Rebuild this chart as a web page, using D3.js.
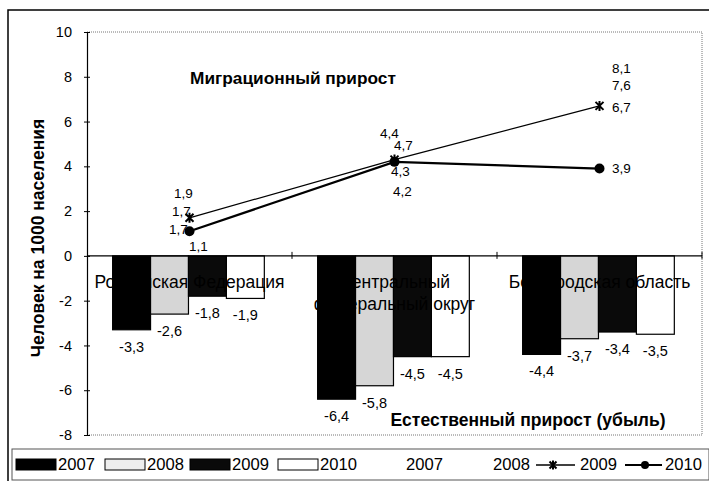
<!DOCTYPE html>
<html>
<head>
<meta charset="utf-8">
<script src="https://cdn.jsdelivr.net/npm/d3@7"></script>
<style>
  body { margin: 0; background: #fff; }
  svg { font-family: "Liberation Sans", Arial, sans-serif; }
</style>
</head>
<body>
<svg id="chart" width="709" height="481"></svg>
<script>
// data
const categories = ['Российская Федерация', 'Центральный федеральный округ', 'Белгородская область'];
const catLines = [['Российская Федерация'], ['Центральный', 'федеральный округ'], ['Белгородская область']];
const years = ['2007', '2008', '2009', '2010'];
const natural2007 = [-3.3, -6.4, -4.4];
const natural2008 = [-2.6, -5.8, -3.7];
const natural2009 = [-1.8, -4.5, -3.4];
const natural2010 = [-1.9, -4.5, -3.5];
const migr2007 = [1.9, 4.4, 8.1];
const migr2008 = [1.7, 4.7, 7.6];
const migr2009 = [1.7, 4.3, 6.7];
const migr2010 = [1.1, 4.2, 3.9];
const yTicks = [-8, -6, -4, -2, 0, 2, 4, 6, 8, 10];

const natural = [natural2007, natural2008, natural2009, natural2010];
const migr = [migr2007, migr2008, migr2009, migr2010];

// hand placed label offsets, like in the original
const migrLabelOffset = [
  [[-6, -20], [-5, -24], [22, -6]],
  [[-8, -7], [9, -5], [22, 0]],
  [[-11, 11], [6, 12], [22, 1]],
  [[9, 15], [8, 29], [22, 0]]
];

const barFill = ['#000', '#d6d6d6', '#0a0a0a', '#fff'];
const fmt = d => String(d).replace('.', ',');

const svg = d3.select('#chart');
const margin = { top: 32, right: 7, bottom: 46, left: 87 };
const W = 709, H = 481;
const width = W - margin.left - margin.right;
const height = H - margin.top - margin.bottom;

// outer frame
svg.append('rect')
  .attr('x', 8).attr('y', 10).attr('width', 702).attr('height', 475)
  .attr('fill', 'none').attr('stroke', '#000').attr('stroke-width', 1.5);

const g = svg.append('g').attr('transform', `translate(${margin.left},${margin.top})`);

const x = d3.scaleBand().domain(categories).range([0, width]);
const x1 = d3.scaleBand().domain(years)
  .range([x.bandwidth() * 0.125, x.bandwidth() * 0.865]);
const y = d3.scaleLinear().domain([-8, 10]).range([height, 0]);

// plot border (dotted grey)
g.append('path')
  .attr('d', `M0,0H${width}V${height}H0`)
  .attr('fill', 'none').attr('stroke', '#777').attr('stroke-dasharray', '1,1');

// bars
years.forEach((yr, i) => {
  g.append('g').selectAll('rect')
    .data(natural[i])
    .enter().append('rect')
    .attr('x', (d, j) => x(categories[j]) + x1(yr))
    .attr('y', y(0))
    .attr('width', x1.bandwidth())
    .attr('height', d => y(d) - y(0))
    .attr('fill', barFill[i])
    .attr('stroke', '#000')
    .attr('stroke-width', 1.2);

  g.append('g').selectAll('text')
    .data(natural[i])
    .enter().append('text')
    .attr('x', (d, j) => x(categories[j]) + x1(yr) + x1.bandwidth() / 2)
    .attr('y', d => y(d) + 22)
    .attr('text-anchor', 'middle')
    .style('font-size', '14.5px')
    .text(fmt);
});

// category labels (black text disappears over the black bars)
catLines.forEach((lines, j) => {
  lines.forEach((t, k) => {
    g.append('text')
      .attr('x', x(categories[j]) + x.bandwidth() / 2)
      .attr('y', y(0) + 32 + k * 22)
      .attr('text-anchor', 'middle')
      .style('font-size', '17.5px')
      .text(t);
  });
});

// zero line
g.append('line')
  .attr('x1', 0).attr('x2', width)
  .attr('y1', y(0)).attr('y2', y(0))
  .attr('stroke', '#000').attr('stroke-width', 1.2);
g.append('g').selectAll('line')
  .data(categories)
  .enter().append('line')
  .attr('x1', d => x(d) + x.bandwidth()).attr('x2', d => x(d) + x.bandwidth())
  .attr('y1', y(0) - 4).attr('y2', y(0) + 3)
  .attr('stroke', '#000');

// y axis
const yAxis = g.append('g')
  .call(d3.axisLeft(y).tickValues(yTicks).tickSize(3).tickPadding(12)
    .tickFormat(fmt));
yAxis.select('.domain').attr('stroke', '#000').attr('stroke-width', 1.2);
yAxis.selectAll('.tick line').attr('x1', -3).attr('x2', 3);
yAxis.selectAll('.tick text')
  .style('font-size', '14.5px').style('font-family', '"Liberation Sans", Arial, sans-serif')
  .attr('fill', '#000');

// migration lines
const cx = d => x(d) + x.bandwidth() / 2;
const line = d3.line().x((d, j) => cx(categories[j])).y(d => y(d));
g.append('path').datum(migr2009).attr('d', line)
  .attr('fill', 'none').attr('stroke', '#000').attr('stroke-width', 1.2);
g.append('path').datum(migr2010).attr('d', line)
  .attr('fill', 'none').attr('stroke', '#000').attr('stroke-width', 2.2);

// star markers
function star(sel, px, py, r) {
  sel.append('path')
    .attr('d', `M${px - r},${py - r}L${px + r},${py + r}M${px - r},${py + r}L${px + r},${py - r}M${px},${py - r - 1}V${py + r + 1}`)
    .attr('stroke', '#000').attr('stroke-width', 2);
}
migr2009.forEach((d, j) => star(g, cx(categories[j]), y(d), 4));
g.append('g').selectAll('circle')
  .data(migr2010)
  .enter().append('circle')
  .attr('cx', (d, j) => cx(categories[j]))
  .attr('cy', d => y(d))
  .attr('r', 5)
  .attr('fill', '#000');

// migration labels
migr.forEach((s, i) => {
  g.append('g').selectAll('text')
    .data(s)
    .enter().append('text')
    .attr('x', (d, j) => cx(categories[j]) + migrLabelOffset[i][j][0])
    .attr('y', (d, j) => y(d) + migrLabelOffset[i][j][1])
    .attr('dy', '0.35em')
    .attr('text-anchor', 'middle')
    .style('font-size', '13.5px')
    .text(fmt);
});

// titles
g.append('text')
  .attr('x', 206).attr('y', 52)
  .attr('text-anchor', 'middle')
  .style('font-size', '17.3px').style('font-weight', 'bold')
  .text('Миграционный прирост');
g.append('text')
  .attr('x', 441).attr('y', 394)
  .attr('text-anchor', 'middle')
  .style('font-size', '17.5px').style('font-weight', 'bold')
  .text('Естественный прирост (убыль)');

svg.append('text')
  .attr('transform', 'translate(44,238) rotate(-90)')
  .attr('text-anchor', 'middle')
  .style('font-size', '17.5px').style('font-weight', 'bold')
  .text('Человек на 1000 населения');

// legend
const leg = svg.append('g');
leg.append('rect')
  .attr('x', 12).attr('y', 449).attr('width', 697).attr('height', 31)
  .attr('fill', '#fff').attr('stroke', '#555').attr('stroke-width', 1);

const swX = [16, 105, 190, 278];
years.forEach((yr, i) => {
  leg.append('rect')
    .attr('x', swX[i]).attr('y', 459).attr('width', 40).attr('height', 11)
    .attr('fill', i === 1 ? '#eee' : barFill[i])
    .attr('stroke', '#000').attr('stroke-width', 1);
  leg.append('text')
    .attr('x', swX[i] + 42).attr('y', 470)
    .style('font-size', '16.6px')
    .text(yr);
});
const lineLegX = [406, 493, 580, 665];
years.forEach((yr, i) => {
  leg.append('text')
    .attr('x', lineLegX[i]).attr('y', 470)
    .style('font-size', '16.6px')
    .text(yr);
});
leg.append('line').attr('x1', 536).attr('x2', 575).attr('y1', 465).attr('y2', 465)
  .attr('stroke', '#000').attr('stroke-width', 1.5);
star(leg, 553, 465, 3.5);
leg.append('line').attr('x1', 625).attr('x2', 662).attr('y1', 465).attr('y2', 465)
  .attr('stroke', '#000').attr('stroke-width', 2);
leg.append('circle').attr('cx', 645).attr('cy', 465).attr('r', 4).attr('fill', '#000');
</script>
</body>
</html>
